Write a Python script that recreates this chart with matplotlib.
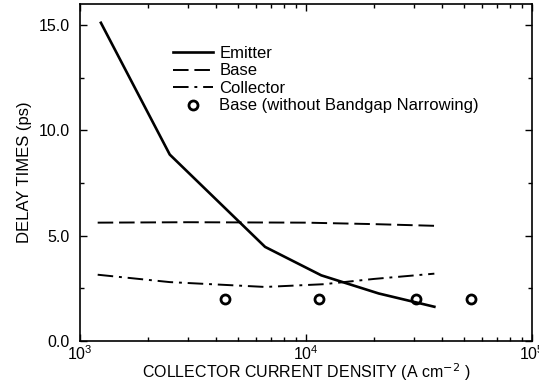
import matplotlib
matplotlib.use("Agg")
import matplotlib.pyplot as plt
from matplotlib.legend_handler import HandlerLine2D

plt.rcParams['font.family'] = ['Liberation Sans', 'DejaVu Sans']

# current density (A cm^-2) and delay times (ps)
emitter_j = [1.24e3, 2.5e3, 6.6e3, 1.17e4, 2.1e4, 3.7e4]
emitter_t = [15.1, 8.85, 4.47, 3.12, 2.26, 1.63]

base_j = [1.2e3, 3e3, 1e4, 2e4, 3.7e4]
base_t = [5.62, 5.64, 5.62, 5.55, 5.47]

coll_j = [1.2e3, 2.5e3, 6.6e3, 1.2e4, 2e4, 3.7e4]
coll_t = [3.15, 2.8, 2.57, 2.7, 2.95, 3.2]

nobgn_j = [4.4e3, 1.14e4, 3.07e4, 5.4e4]
nobgn_t = [2.0, 2.0, 2.0, 2.0]


class RightMarker(HandlerLine2D):
    # put the single legend marker at the right end of the handle
    def get_xdata(self, legend, xdescent, ydescent, width, height, fontsize):
        xd, xm = super().get_xdata(legend, xdescent, ydescent, width, height, fontsize)
        return xd, [width - xdescent - 3]


fig = plt.figure(figsize=(5.39, 3.82), dpi=100)
ax = fig.add_axes([0.148, 0.107, 0.839, 0.883])

ax.plot(emitter_j, emitter_t, color='black', lw=1.9, label='Emitter')
ax.plot(base_j, base_t, color='black', lw=1.4, dashes=(8, 3), label='Base')
ax.plot(coll_j, coll_t, color='black', lw=1.4, dashes=(8, 3, 1.5, 3), label='Collector')
circ, = ax.plot(nobgn_j, nobgn_t, 'o', color='black', mfc='none', ms=6.5, mew=2,
                label='Base (without Bandgap Narrowing)')

ax.set_xscale('log')
ax.set_xlim(1e3, 1e5)
ax.set_ylim(0, 16)
ax.set_yticks([0, 5, 10, 15])
ax.set_yticks([2.5, 7.5, 12.5], minor=True)
ax.yaxis.set_major_formatter(plt.FormatStrFormatter('%.1f'))

ax.tick_params(which='both', direction='in', top=True, right=True, labelsize=11.5)
ax.tick_params(which='major', length=5, width=1)
ax.tick_params(which='minor', length=3, width=1)
ax.tick_params(axis='x', pad=2)
ax.tick_params(axis='y', pad=7)
for s in ax.spines.values():
    s.set_linewidth(1.2)

ax.set_xlabel(r'COLLECTOR CURRENT DENSITY (A cm$^{-2}$ )', fontsize=11.5, labelpad=-1)
ax.set_ylabel('DELAY TIMES (ps)', fontsize=12, labelpad=5)

ax.legend(loc='upper left', bbox_to_anchor=(0.187, 0.9), frameon=False, fontsize=12,
          handlelength=2.4, handletextpad=0.4, labelspacing=0.15, borderpad=0,
          handler_map={circ: RightMarker(numpoints=1)})

fig.savefig('out.png', dpi=100)
